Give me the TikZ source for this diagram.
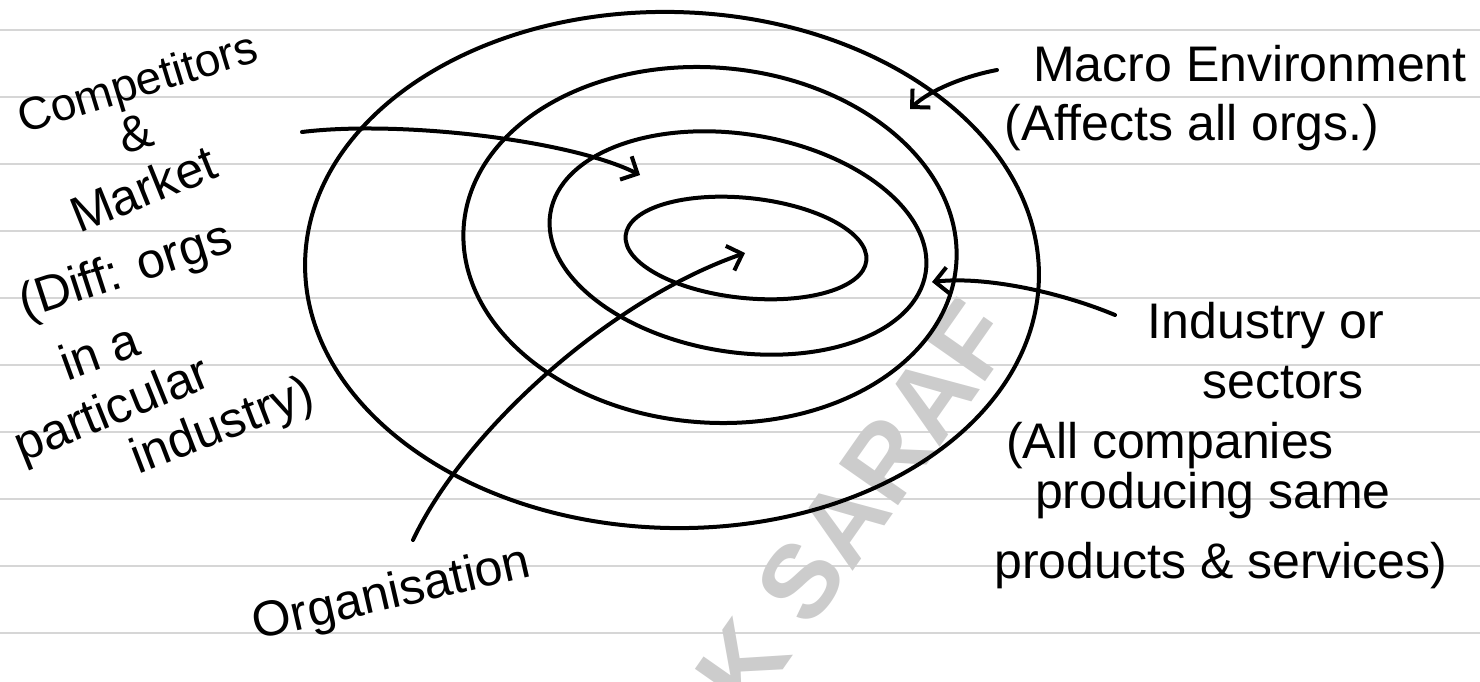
\documentclass[tikz,border=0pt]{standalone}
\usepackage{fontspec}
\setmainfont{Liberation Sans}
\usepackage{tikz}
\usetikzlibrary{shapes.geometric,arrows.meta}
\tikzset{
	ringline/.style={ellipse,draw=black,line width=4pt,inner sep=0pt,outer sep=0pt},
	ruleline/.style={draw=black!16,line width=2pt},
	notetext/.style={font=\fontsize{50}{56}\selectfont,inner sep=0pt,anchor=base},
	pointer/.style={draw=black,line width=4pt,line cap=round,-{Straight Barb[length=13pt,width=26pt]}},
	watermark/.style={font=\fontsize{105}{110}\selectfont\bfseries,text=black!20,inner sep=0pt}
}

\begin{document}
\begin{tikzpicture}[x=1pt,y=-1pt]
	\useasboundingbox (0,0) rectangle (1480,682);
	\foreach \k in {0,...,9}
		\draw[ruleline] (0,30+67*\k) -- (1480,30+67*\k);
	\node[watermark,rotate=55] (mark) at (855,505) {K SARAF};
	% the four rings
	\node[ringline,minimum width=734pt,minimum height=516pt,rotate=-1.5] (macro) at (672,270) {};
	\node[ringline,minimum width=494pt,minimum height=355pt,rotate=-4.5] (ind) at (710,245) {};
	\node[ringline,minimum width=380pt,minimum height=218pt,rotate=-9] (comp) at (738,243) {};
	\node[ringline,minimum width=242pt,minimum height=100pt,rotate=-6] (org) at (746,248) {};
	% left notes
	\node[notetext,rotate=17,font=\fontsize{46}{52}\selectfont] (competitors) at (142,97) {Competitors};
	\node[notetext,rotate=17] (amp) at (140,150) {\&};
	\node[notetext,rotate=22] (market) at (150,205) {Market};
	\node[notetext,rotate=18] (diff) at (130,285) {(Diff: orgs};
	\node[notetext,rotate=20] (ina) at (105,368) {in a};
	\node[notetext,rotate=22] (particular) at (118,424) {particular};
	\node[notetext,rotate=21] (industryl) at (228,440) {industry)};
	% right notes
	\node[notetext] (macrotext) at (1250,82) {Macro Environment};
	\node[notetext] (affects) at (1192,140) {(Affects all orgs.)};
	\node[notetext] (industryr) at (1266,338) {Industry or};
	\node[notetext] (sectors) at (1283,398) {sectors};
	\node[notetext] (allcomp) at (1170,458) {(All companies};
	\node[notetext] (producing) at (1213,508) {producing same};
	\node[notetext] (products) at (1221,578) {products \& services)};
	\node[notetext,rotate=13] (orgtext) at (395,608) {Organisation};
	% pointers
	\coordinate (compTail) at (302,132);
	\coordinate (compTip) at (640,175);
	\coordinate (macroTail) at (997,70);
	\coordinate (macroTip) at (910,109);
	\coordinate (indTail) at (1115,315);
	\coordinate (indTip) at (932,282);
	\coordinate (orgTail) at (413,540);
	\coordinate (orgTip) at (745,253);
	\draw[pointer] (compTail) .. controls +(98,-12) and +(-70,-35) .. (compTip);
	\draw[pointer] (macroTail) .. controls +(-32,6) and +(20,-19) .. (macroTip);
	\draw[pointer] (indTail) .. controls +(-55,-23) and +(53,-6) .. (indTip);
	\draw[pointer] (orgTail) .. controls +(52,-110) and +(-135,47) .. (orgTip);
\end{tikzpicture}
\end{document}
